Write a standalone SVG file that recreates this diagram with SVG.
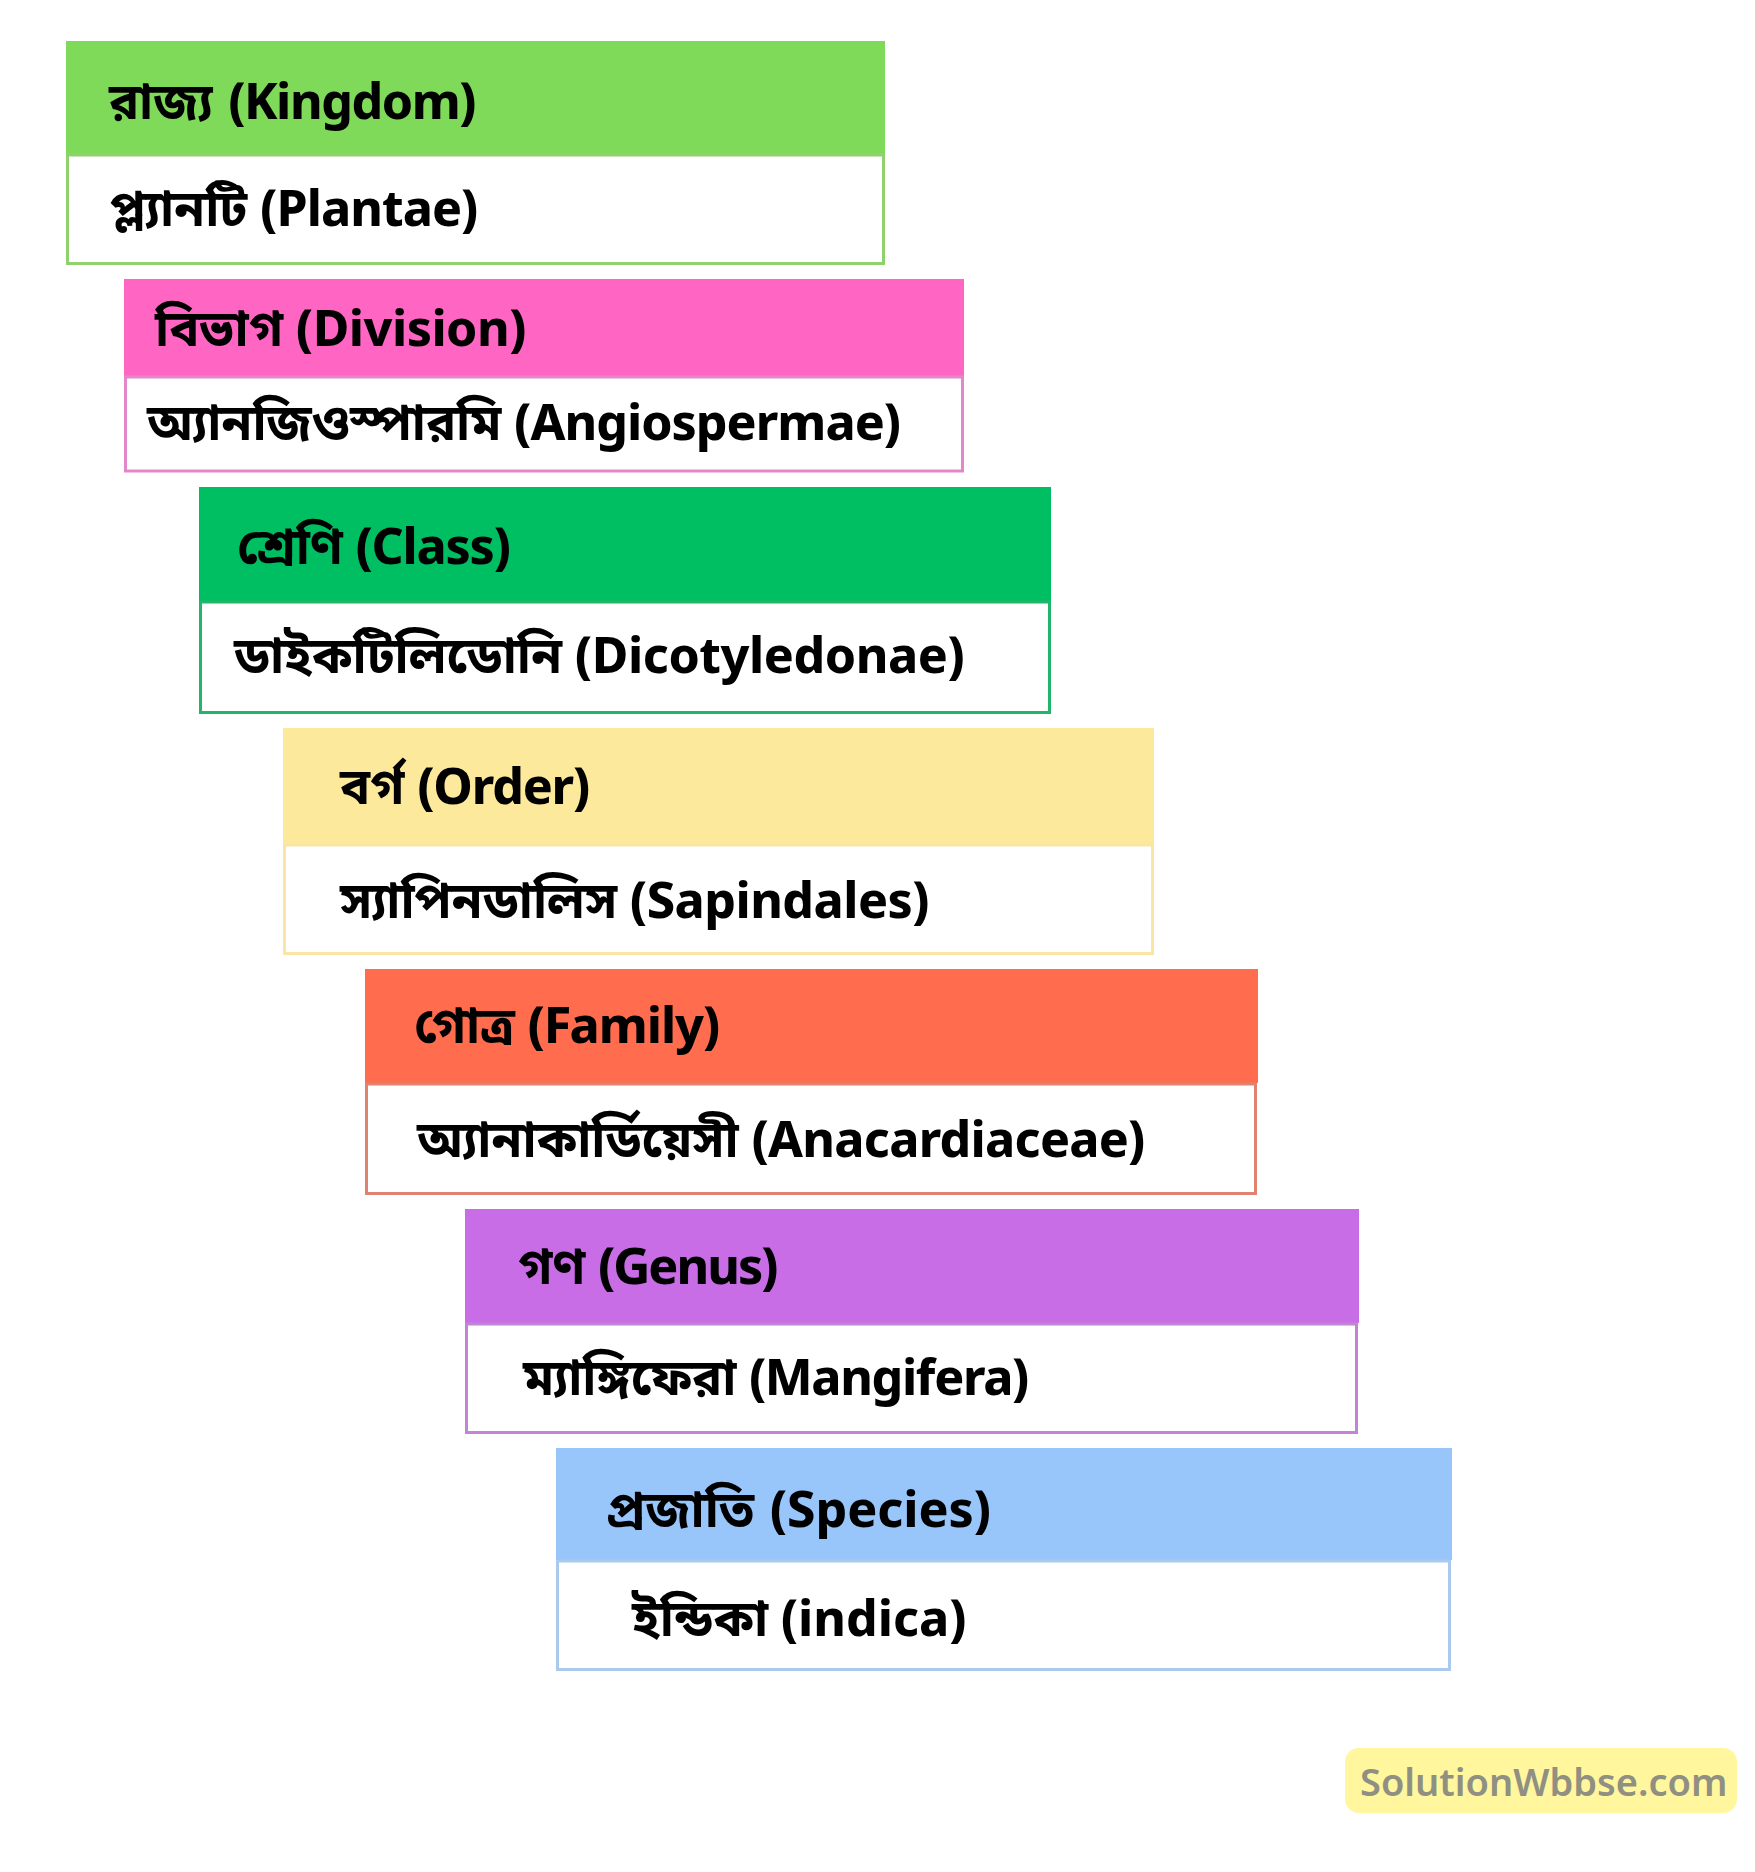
<svg xmlns="http://www.w3.org/2000/svg" width="1755" height="1872" viewBox="0 0 1755 1872">
<style>
.t{font-family:"Noto Sans Bengali","Noto Sans",sans-serif;font-weight:700;font-size:50px;fill:#000}
.body{fill:#fff;stroke-width:3}
.wm{font-family:"Noto Sans","Open Sans",sans-serif;font-weight:600;font-size:38px;fill:#8f8f82}
</style>
<rect width="1755" height="1872" fill="#fff"/>
<g id="kingdom">
<rect x="66" y="41" width="819" height="114" fill="#80DA5A"/>
<rect class="body" x="67.5" y="155" width="816" height="108.5" stroke="#8FD16F"/>
<text class="t" x="109" y="119">রাজ্য <tspan dx="3" letter-spacing="-1.4">(Kingdom)</tspan></text>
<text class="t" x="109" y="226">প্ল্যানটি <tspan letter-spacing="-0.9">(Plantae)</tspan></text>
</g>
<g id="division">
<rect x="124" y="279" width="840" height="97" fill="#FF66C4"/>
<rect class="body" x="125.5" y="377" width="837" height="94" stroke="#E287CA"/>
<text class="t" x="155" y="346">বিভাগ <tspan letter-spacing="-0.5">(Division)</tspan></text>
<text class="t" x="147" y="440">অ্যানজিওস্পারমি <tspan letter-spacing="-0.95">(Angiospermae)</tspan></text>
</g>
<g id="class">
<rect x="199" y="487" width="852" height="114" fill="#00BF63"/>
<rect class="body" x="200.5" y="602" width="849" height="110.5" stroke="#22B56B"/>
<text class="t" x="237" y="564">শ্রেণি <tspan letter-spacing="-1.2">(Class)</tspan></text>
<text class="t" x="234" y="673">ডাইকটিলিডোনি <tspan letter-spacing="-0.4">(Dicotyledonae)</tspan></text>
</g>
<g id="order">
<rect x="283" y="728" width="871" height="117" fill="#FDE99B"/>
<rect class="body" x="284.5" y="845" width="868" height="108.5" stroke="#F9E6A3"/>
<text class="t" x="340" y="804">বর্গ <tspan letter-spacing="-1.2">(Order)</tspan></text>
<text class="t" x="340" y="918">স্যাপিনডালিস <tspan letter-spacing="-0.5">(Sapindales)</tspan></text>
</g>
<g id="family">
<rect x="365" y="969" width="893" height="114" fill="#FF6D4E"/>
<rect class="body" x="366.5" y="1084" width="889" height="109.5" stroke="#E08270"/>
<text class="t" x="414" y="1043">গোত্র <tspan letter-spacing="-1">(Family)</tspan></text>
<text class="t" x="417" y="1157">অ্যানাকার্ডিয়েসী <tspan letter-spacing="-0.7">(Anacardiaceae)</tspan></text>
</g>
<g id="genus">
<rect x="465" y="1209" width="894" height="114" fill="#C86DE5"/>
<rect class="body" x="466.5" y="1324" width="890" height="108.5" stroke="#C283D9"/>
<text class="t" x="518" y="1284">গণ <tspan letter-spacing="-1.9">(Genus)</tspan></text>
<text class="t" x="523" y="1395">ম্যাঙ্গিফেরা <tspan letter-spacing="-1.3">(Mangifera)</tspan></text>
</g>
<g id="species">
<rect x="556" y="1448" width="896" height="112" fill="#98C5FA"/>
<rect class="body" x="557.5" y="1561" width="892" height="108.5" stroke="#ABC9EC"/>
<text class="t" x="606" y="1527">প্রজাতি <tspan dx="3">(Species)</tspan></text>
<text class="t" x="632" y="1636">ইন্ডিকা (indica)</text>
</g>
<g id="connectors"></g>
<g id="watermark">
<rect x="1345" y="1748" width="392" height="65" rx="14" fill="#FFF69E"/>
<text class="wm" x="1360" y="1796">SolutionWbbse.com</text>
</g>
</svg>
